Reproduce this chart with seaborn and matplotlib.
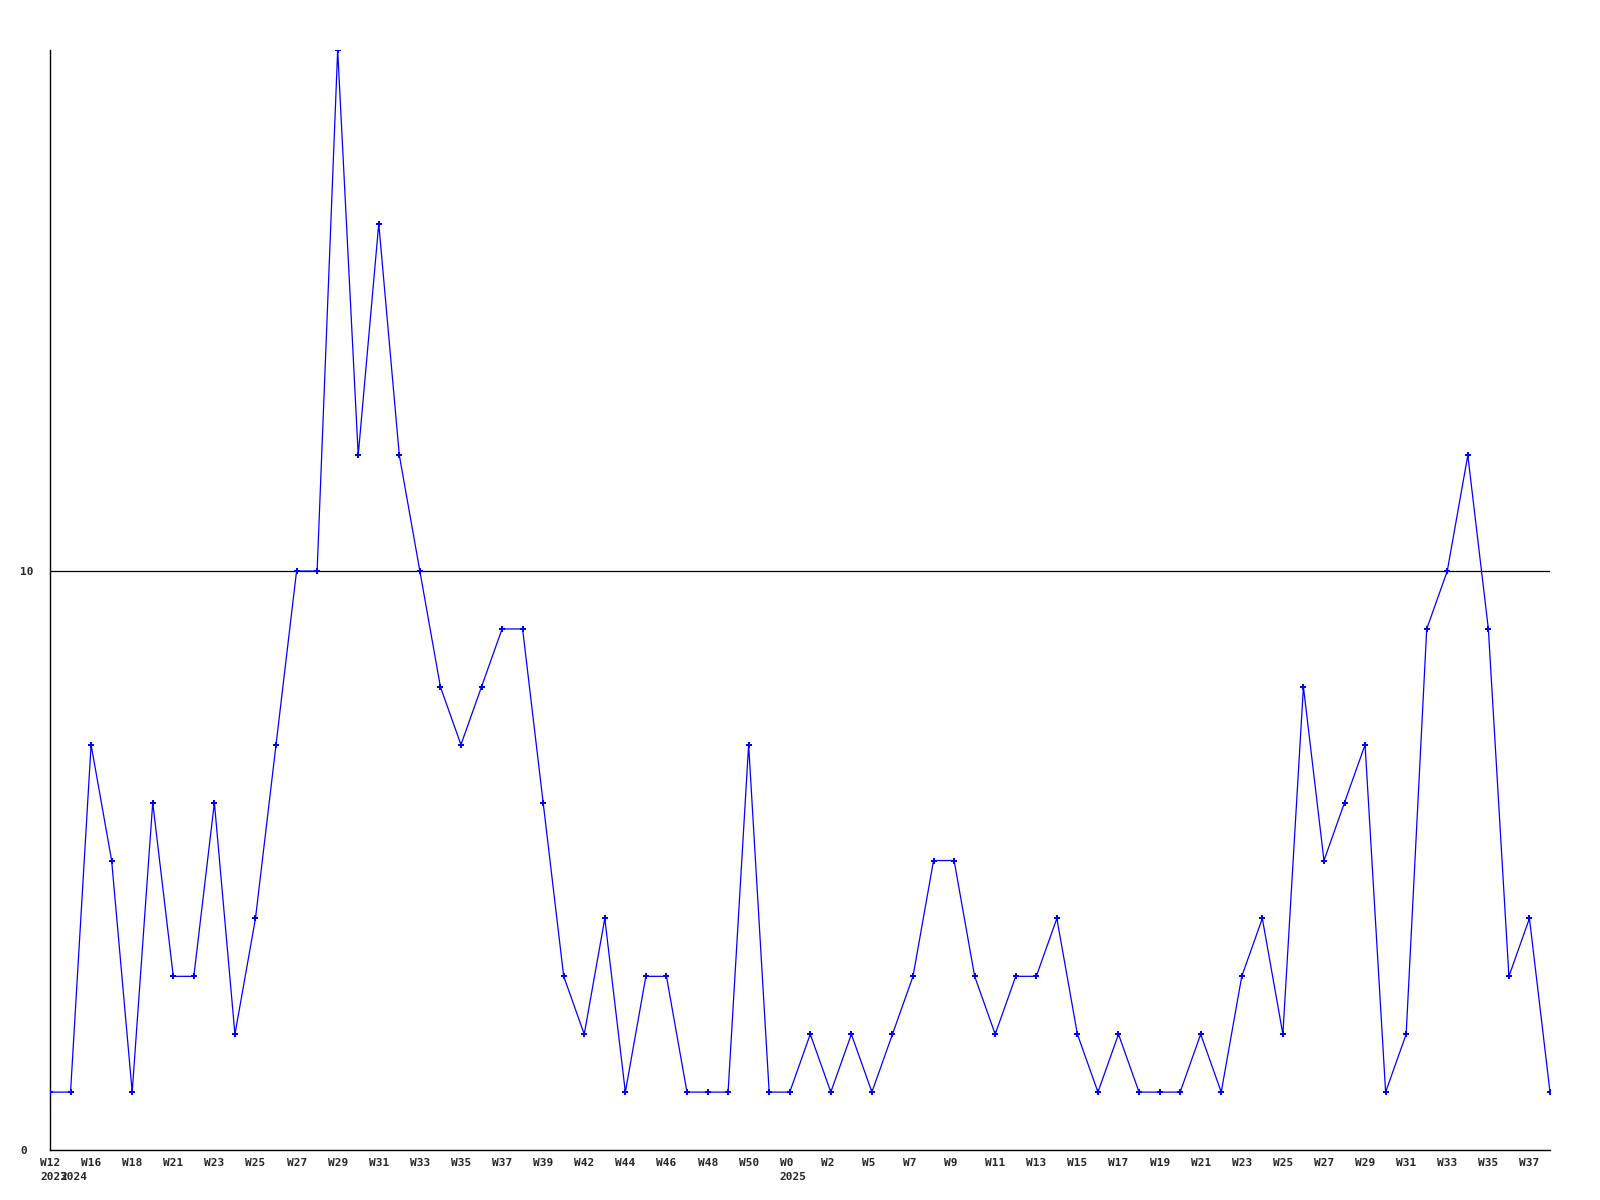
import matplotlib
matplotlib.use("Agg")
import matplotlib.pyplot as plt
import matplotlib.transforms as mtransforms
import seaborn as sns
import pandas as pd

# weekly counts
counts = [1, 1, 7, 5, 1, 6, 3, 3, 6, 2, 4, 7, 10, 10, 19, 12, 16, 12, 10, 8,
          7, 8, 9, 9, 6, 3, 2, 4, 1, 3, 3, 1, 1, 1, 7, 1, 1, 2, 1, 2,
          1, 2, 3, 5, 5, 3, 2, 3, 3, 4, 2, 1, 2, 1, 1, 1, 2, 1, 3, 4,
          2, 8, 5, 6, 7, 1, 2, 9, 10, 12, 9, 3, 4, 1]

# labels shown under every second point
week_labels = ["W12", "W16", "W18", "W21", "W23", "W25", "W27", "W29", "W31",
               "W33", "W35", "W37", "W39", "W42", "W44", "W46", "W48", "W50",
               "W0", "W2", "W5", "W7", "W9", "W11", "W13", "W15", "W17", "W19",
               "W21", "W23", "W25", "W27", "W29", "W31", "W33", "W35", "W37"]

# year markers: (point index, year)
year_pos = [0, 1, 36]
year_labels = ["2023", "2024", "2025"]

y_ticks = [0, 10]

df = pd.DataFrame({"idx": range(len(counts)), "count": counts})

sns.set_style("white")
plt.rcParams["font.family"] = ["DejaVu Sans Mono", "DejaVu Sans"]

fig = plt.figure(figsize=(16, 12), dpi=100)
ax = fig.add_axes([50 / 1600, 50 / 1200, 1500 / 1600, 1100 / 1200])

ax.axhline(10, color="black", lw=0.9, zorder=1)
sns.lineplot(data=df, x="idx", y="count", ax=ax, color="blue", lw=0.9,
             marker="P", markersize=4, markeredgewidth=0, zorder=3)

ax.set_xlim(0, len(counts) - 1)
ax.set_ylim(0, 19)
ax.set_xlabel("")
ax.set_ylabel("")

for side in ["top", "right"]:
    ax.spines[side].set_visible(False)
for side in ["left", "bottom"]:
    ax.spines[side].set_color("black")
    ax.spines[side].set_linewidth(1.0)

ax.set_xticks([])
ax.set_yticks(y_ticks)
ax.set_yticklabels([str(v) for v in y_ticks], fontsize=8, fontweight="bold")
ax.tick_params(axis="y", length=0, pad=21.6)
for lab in ax.get_yticklabels():
    lab.set_horizontalalignment("left")

base = mtransforms.blended_transform_factory(ax.transData, ax.transAxes)
wk_off = base + mtransforms.ScaledTranslation(-0.10, -0.075, fig.dpi_scale_trans)
yr_off = base + mtransforms.ScaledTranslation(-0.10, -0.225, fig.dpi_scale_trans)

for i, lab in enumerate(week_labels):
    ax.text(2 * i, 0, lab, transform=wk_off, ha="left", va="top",
            fontsize=8, fontweight="bold")
for pos, lab in zip(year_pos, year_labels):
    ax.text(pos, 0, lab, transform=yr_off, ha="left", va="top",
            fontsize=8, fontweight="bold")

fig.savefig("out.png", dpi=100)
